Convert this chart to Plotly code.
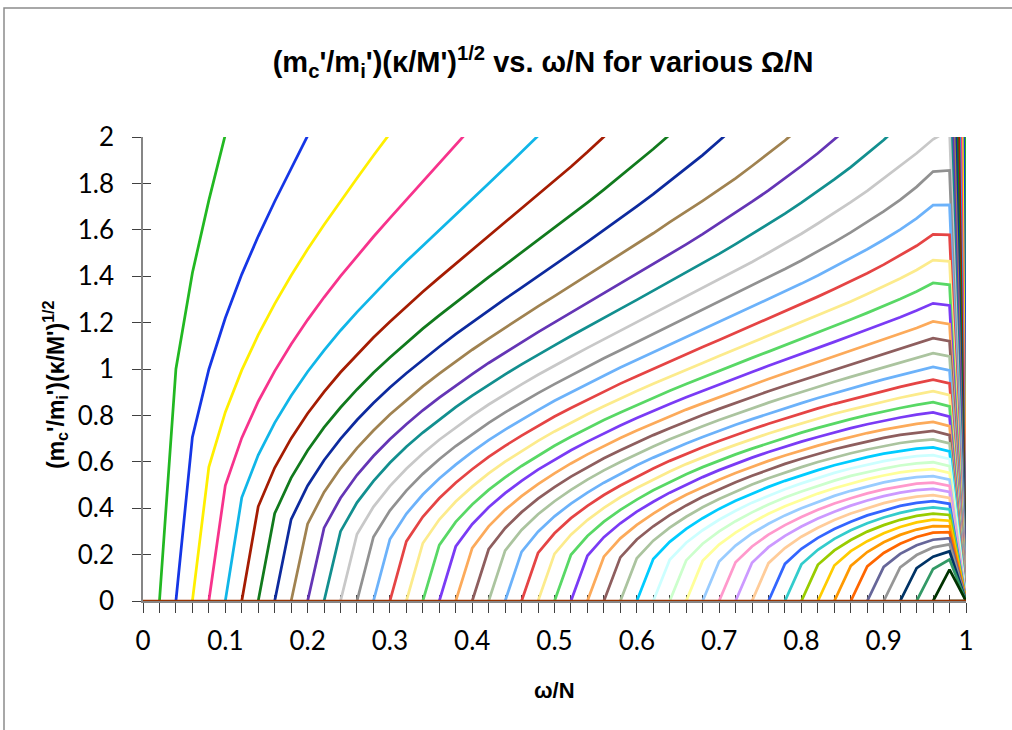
import plotly.graph_objects as go

# omega/N grid on which every curve is sampled
omega_grid = [0.00, 0.02, 0.04, 0.06, 0.08, 0.10, 0.12, 0.14, 0.16, 0.18, 0.20,
              0.22, 0.24, 0.26, 0.28, 0.30, 0.32, 0.34, 0.36, 0.38, 0.40,
              0.42, 0.44, 0.46, 0.48, 0.50, 0.52, 0.54, 0.56, 0.58, 0.60,
              0.62, 0.64, 0.66, 0.68, 0.70, 0.72, 0.74, 0.76, 0.78, 0.80,
              0.82, 0.84, 0.86, 0.88, 0.90, 0.92, 0.94, 0.96, 0.98, 1.00]

# Omega/N of each curve
omega_values = [0.02, 0.04, 0.06, 0.08, 0.10, 0.12, 0.14, 0.16, 0.18, 0.20,
                0.22, 0.24, 0.26, 0.28, 0.30, 0.32, 0.34, 0.36, 0.38, 0.40,
                0.42, 0.44, 0.46, 0.48, 0.50, 0.52, 0.54, 0.56, 0.58, 0.60,
                0.62, 0.64, 0.66, 0.68, 0.70, 0.72, 0.74, 0.76, 0.78, 0.80,
                0.82, 0.84, 0.86, 0.88, 0.90, 0.92, 0.94, 0.96, 0.98, 1.00]

# Curves that leave the top of the plot: values from omega/N = Omega/N up to the
# first point above 2, then their value at omega/N = 0.98 (they end at 0 at 1.0)
w02 = [0, 1.000, 1.414, 1.727, 2.010, 2.240]
w04 = [0, 0.706, 0.998, 1.220, 1.408, 1.572, 1.722, 1.862, 2.005, 2.125]
w06 = [0, 0.577, 0.814, 0.995, 1.147, 1.281, 1.403, 1.516, 1.622, 1.724, 1.822, 1.920,
       2.018, 2.110]
w08 = [0, 0.498, 0.703, 0.860, 0.991, 1.107, 1.212, 1.309, 1.400, 1.486, 1.570, 1.650,
       1.730, 1.809, 1.887, 1.966, 2.045]
w10 = [0, 0.446, 0.629, 0.768, 0.885, 0.988, 1.080, 1.166, 1.245, 1.321, 1.394, 1.464,
       1.532, 1.600, 1.666, 1.733, 1.800, 1.867, 1.936, 2.005]
w12 = [0, 0.407, 0.574, 0.701, 0.808, 0.901, 0.986, 1.063, 1.136, 1.204, 1.270, 1.333,
       1.394, 1.454, 1.514, 1.573, 1.632, 1.690, 1.750, 1.811, 1.872, 1.935, 2.000, 2.067]
w14 = [0, 0.377, 0.531, 0.649, 0.748, 0.834, 0.912, 0.984, 1.050, 1.113, 1.174, 1.231,
       1.287, 1.342, 1.396, 1.449, 1.502, 1.555, 1.609, 1.662, 1.717, 1.773, 1.830, 1.888,
       1.948, 2.010]
w16 = [0, 0.352, 0.497, 0.607, 0.699, 0.780, 0.853, 0.920, 0.982, 1.041, 1.096, 1.150,
       1.202, 1.252, 1.302, 1.351, 1.399, 1.447, 1.498, 1.548, 1.598, 1.649, 1.701, 1.754,
       1.809, 1.865, 1.922, 1.984, 2.046]
w18 = [0, 0.332, 0.469, 0.572, 0.659, 0.735, 0.804, 0.866, 0.925, 0.980, 1.032, 1.083,
       1.131, 1.178, 1.224, 1.270, 1.314, 1.359, 1.404, 1.449, 1.494, 1.539, 1.585, 1.633,
       1.678, 1.725, 1.773, 1.822, 1.875, 1.929, 1.985, 2.045]
w20 = [0, 0.315, 0.444, 0.543, 0.625, 0.697, 0.762, 0.822, 0.877, 0.929, 0.978, 1.026,
       1.071, 1.115, 1.159, 1.201, 1.243, 1.285, 1.326, 1.367, 1.409, 1.451, 1.494, 1.537,
       1.581, 1.627, 1.673, 1.721, 1.770, 1.822, 1.875, 1.930, 1.989, 2.050]
w22 = [0, 0.300, 0.424, 0.517, 0.596, 0.665, 0.726, 0.783, 0.836, 0.885, 0.932, 0.977,
       1.020, 1.062, 1.102, 1.142, 1.182, 1.221, 1.259, 1.298, 1.337, 1.376, 1.415, 1.455,
       1.496, 1.538, 1.581, 1.625, 1.670, 1.717, 1.766, 1.817, 1.870, 1.927, 1.987, 2.053]
rim_values = [26.6, 13.5, 8.74, 6.51, 5.17, 4.55, 3.63, 3.15, 2.78, 2.48, 2.23]

# Curves drawn in full: from omega/N = Omega/N to omega/N = 1
w24 = [0, 0.288, 0.406, 0.495, 0.570, 0.636, 0.695, 0.749, 0.799, 0.847, 0.891, 0.934,
       0.975, 1.015, 1.053, 1.091, 1.128, 1.165, 1.201, 1.238, 1.274, 1.311, 1.347, 1.385,
       1.423, 1.461, 1.501, 1.541, 1.583, 1.627, 1.672, 1.719, 1.768, 1.821, 1.875, 1.930,
       1.990, 2.030, 0]
w26 = [0, 0.276, 0.390, 0.476, 0.548, 0.611, 0.668, 0.719, 0.768, 0.813, 0.855, 0.896,
       0.935, 0.973, 1.010, 1.046, 1.081, 1.116, 1.150, 1.185, 1.219, 1.253, 1.288, 1.323,
       1.358, 1.394, 1.431, 1.468, 1.507, 1.547, 1.589, 1.633, 1.679, 1.729, 1.785, 1.851,
       1.856, 0]
w28 = [0, 0.266, 0.376, 0.459, 0.528, 0.588, 0.643, 0.693, 0.739, 0.782, 0.823, 0.863,
       0.900, 0.936, 0.971, 1.006, 1.039, 1.072, 1.105, 1.137, 1.170, 1.202, 1.234, 1.267,
       1.300, 1.334, 1.368, 1.403, 1.440, 1.477, 1.516, 1.557, 1.601, 1.649, 1.706, 1.707, 0]
w30 = [0, 0.257, 0.363, 0.443, 0.510, 0.568, 0.621, 0.669, 0.713, 0.755, 0.795, 0.832,
       0.868, 0.903, 0.937, 0.969, 1.001, 1.033, 1.064, 1.095, 1.125, 1.156, 1.186, 1.217,
       1.248, 1.280, 1.312, 1.345, 1.378, 1.413, 1.450, 1.489, 1.531, 1.580, 1.578, 0]
w32 = [0, 0.249, 0.351, 0.429, 0.493, 0.550, 0.601, 0.647, 0.690, 0.731, 0.769, 0.805,
       0.839, 0.873, 0.905, 0.936, 0.967, 0.997, 1.026, 1.056, 1.085, 1.114, 1.143, 1.172,
       1.201, 1.231, 1.261, 1.291, 1.323, 1.355, 1.390, 1.427, 1.469, 1.464, 0]
w34 = [0, 0.241, 0.341, 0.416, 0.479, 0.533, 0.582, 0.627, 0.669, 0.708, 0.745, 0.780,
       0.813, 0.845, 0.876, 0.906, 0.935, 0.964, 0.992, 1.020, 1.048, 1.075, 1.102, 1.130,
       1.157, 1.185, 1.213, 1.242, 1.271, 1.302, 1.334, 1.371, 1.363, 0]
w36 = [0, 0.235, 0.331, 0.404, 0.465, 0.518, 0.566, 0.609, 0.650, 0.687, 0.723, 0.756,
       0.789, 0.820, 0.849, 0.878, 0.906, 0.934, 0.961, 0.987, 1.014, 1.039, 1.065, 1.091,
       1.117, 1.143, 1.169, 1.196, 1.223, 1.252, 1.283, 1.274, 0]
w38 = [0, 0.228, 0.322, 0.393, 0.452, 0.504, 0.550, 0.593, 0.632, 0.668, 0.703, 0.735,
       0.766, 0.796, 0.825, 0.852, 0.879, 0.906, 0.931, 0.957, 0.982, 1.006, 1.030, 1.055,
       1.079, 1.103, 1.127, 1.152, 1.177, 1.205, 1.193, 0]
w40 = [0, 0.223, 0.314, 0.383, 0.441, 0.491, 0.536, 0.577, 0.615, 0.650, 0.684, 0.715,
       0.745, 0.774, 0.802, 0.828, 0.854, 0.879, 0.904, 0.928, 0.951, 0.975, 0.998, 1.020,
       1.043, 1.065, 1.087, 1.110, 1.133, 1.120, 0]
w42 = [0, 0.217, 0.306, 0.374, 0.430, 0.479, 0.523, 0.563, 0.599, 0.634, 0.666, 0.697,
       0.726, 0.753, 0.780, 0.806, 0.830, 0.855, 0.878, 0.901, 0.923, 0.945, 0.966, 0.987,
       1.008, 1.028, 1.048, 1.068, 1.054, 0]
w44 = [0, 0.212, 0.299, 0.365, 0.420, 0.467, 0.510, 0.549, 0.585, 0.618, 0.650, 0.679,
       0.707, 0.734, 0.760, 0.784, 0.808, 0.831, 0.853, 0.875, 0.896, 0.916, 0.936, 0.955,
       0.973, 0.991, 1.009, 0.994, 0]
w46 = [0, 0.207, 0.292, 0.357, 0.410, 0.457, 0.498, 0.536, 0.571, 0.604, 0.634, 0.663,
       0.690, 0.716, 0.740, 0.764, 0.787, 0.809, 0.830, 0.850, 0.869, 0.888, 0.906, 0.923,
       0.939, 0.954, 0.938, 0]
w48 = [0, 0.203, 0.286, 0.349, 0.401, 0.447, 0.487, 0.524, 0.558, 0.590, 0.619, 0.647,
       0.673, 0.698, 0.722, 0.744, 0.766, 0.787, 0.807, 0.825, 0.843, 0.860, 0.876, 0.891,
       0.904, 0.887, 0]
w50 = [0, 0.199, 0.280, 0.342, 0.393, 0.437, 0.477, 0.513, 0.546, 0.577, 0.605, 0.632,
       0.657, 0.681, 0.704, 0.726, 0.746, 0.766, 0.784, 0.801, 0.817, 0.832, 0.845, 0.857,
       0.839, 0]
w52 = [0, 0.195, 0.275, 0.335, 0.385, 0.428, 0.467, 0.502, 0.534, 0.564, 0.592, 0.618,
       0.642, 0.665, 0.687, 0.707, 0.727, 0.745, 0.762, 0.777, 0.791, 0.803, 0.813, 0.795, 0]
w54 = [0, 0.191, 0.270, 0.328, 0.377, 0.420, 0.458, 0.492, 0.523, 0.552, 0.579, 0.604,
       0.627, 0.649, 0.670, 0.689, 0.707, 0.724, 0.739, 0.752, 0.763, 0.772, 0.754, 0]
w56 = [0, 0.188, 0.265, 0.322, 0.370, 0.412, 0.449, 0.482, 0.512, 0.540, 0.566, 0.591,
       0.613, 0.634, 0.654, 0.671, 0.688, 0.703, 0.716, 0.726, 0.733, 0.715, 0]
w58 = [0, 0.184, 0.260, 0.316, 0.363, 0.404, 0.440, 0.472, 0.502, 0.529, 0.554, 0.577,
       0.599, 0.619, 0.637, 0.653, 0.668, 0.681, 0.690, 0.697, 0.679, 0]
w60 = [0, 0.181, 0.255, 0.311, 0.357, 0.397, 0.432, 0.463, 0.492, 0.518, 0.542, 0.564,
       0.585, 0.603, 0.620, 0.635, 0.647, 0.657, 0.662, 0.645, 0]
w62 = [0, 0.178, 0.251, 0.305, 0.350, 0.389, 0.424, 0.454, 0.482, 0.507, 0.531, 0.552,
       0.571, 0.588, 0.603, 0.615, 0.624, 0.629, 0.612, 0]
w64 = [0, 0.175, 0.247, 0.300, 0.344, 0.382, 0.416, 0.446, 0.472, 0.497, 0.519, 0.539,
       0.556, 0.571, 0.584, 0.593, 0.598, 0.581, 0]
w66 = [0, 0.173, 0.243, 0.295, 0.338, 0.376, 0.408, 0.437, 0.463, 0.486, 0.507, 0.525,
       0.541, 0.554, 0.563, 0.568, 0.552, 0]
w68 = [0, 0.170, 0.239, 0.291, 0.333, 0.369, 0.400, 0.428, 0.453, 0.475, 0.494, 0.511,
       0.524, 0.534, 0.538, 0.523, 0]
w70 = [0, 0.167, 0.235, 0.286, 0.327, 0.362, 0.393, 0.420, 0.443, 0.464, 0.481, 0.495,
       0.506, 0.510, 0.496, 0]
w72 = [0, 0.165, 0.232, 0.281, 0.321, 0.356, 0.385, 0.411, 0.433, 0.452, 0.467, 0.478,
       0.483, 0.470, 0]
w74 = [0, 0.163, 0.228, 0.277, 0.316, 0.349, 0.377, 0.401, 0.422, 0.438, 0.450, 0.456,
       0.444, 0]
w76 = [0, 0.160, 0.225, 0.272, 0.310, 0.342, 0.369, 0.391, 0.410, 0.423, 0.430, 0.419, 0]
w78 = [0, 0.158, 0.221, 0.268, 0.305, 0.335, 0.360, 0.380, 0.395, 0.403, 0.395, 0]
w80 = [0, 0.156, 0.218, 0.263, 0.299, 0.327, 0.350, 0.367, 0.377, 0.371, 0]
w82 = [0, 0.153, 0.215, 0.258, 0.292, 0.319, 0.339, 0.351, 0.346, 0]
w84 = [0, 0.151, 0.211, 0.253, 0.285, 0.308, 0.323, 0.322, 0]
w86 = [0, 0.149, 0.207, 0.247, 0.276, 0.295, 0.297, 0]
w88 = [0, 0.147, 0.203, 0.240, 0.264, 0.271, 0]
w90 = [0, 0.145, 0.198, 0.231, 0.244, 0]
w92 = [0, 0.142, 0.191, 0.214, 0]
w94 = [0, 0.138, 0.179, 0]
w96 = [0, 0.135, 0]
w98 = [0, 0]
w100 = [0, 0, 0, 0, 0, 0, 0, 0, 0, 0, 0, 0, 0, 0, 0, 0, 0, 0, 0, 0, 0, 0, 0, 0, 0, 0,
        0, 0, 0, 0, 0, 0, 0, 0, 0, 0, 0, 0, 0, 0, 0, 0, 0, 0, 0, 0, 0, 0, 0, 0, 0]

clipped_curves = [w02, w04, w06, w08, w10, w12, w14, w16, w18, w20, w22]
full_curves = [w24, w26, w28, w30, w32, w34, w36, w38, w40, w42, w44, w46, w48, w50,
               w52, w54, w56, w58, w60, w62, w64, w66, w68, w70, w72, w74, w76, w78,
               w80, w82, w84, w86, w88, w90, w92, w94, w96, w98]

curve_colors = ["#22B822", "#1536E6", "#FFEF00", "#F7338C", "#10B6E8", "#A51C02",
                "#117A1D", "#0D2A9E", "#A08250", "#6435B5", "#128F8F", "#C8C8C8",
                "#919191", "#6CB2FA", "#E54444", "#FCEB8C", "#58D865", "#7A3BF5",
                "#FCAA5A", "#8E5E5E", "#ABC49F", "#6CB2FA", "#E54444", "#FCEB8C",
                "#58D865", "#7A3BF5", "#FCAA5A", "#8E5E5E", "#ABC49F", "#00CCFF",
                "#CCFFFF", "#CCFFCC", "#FFFF99", "#99CCFF", "#FF99CC", "#CC99FF",
                "#FFCC99", "#3366FF", "#33CCCC", "#99CC00", "#FFCC00", "#FF9900",
                "#FF6600", "#666699", "#969696", "#003366", "#339966", "#003300",
                "#333300", "#993300"]

LINE_W = 2.75
fig = go.Figure()


def add_curve(xs, ys, color):
    fig.add_trace(go.Scatter(x=xs, y=ys, mode="lines", line=dict(color=color, width=LINE_W),
                             hoverinfo="skip", showlegend=False))


for idx, vals in enumerate(clipped_curves):
    i0 = omega_grid.index(omega_values[idx])
    xs = omega_grid[i0:i0 + len(vals)] + [omega_grid[-2], omega_grid[-1]]
    ys = vals + [rim_values[idx], 0]
    add_curve(xs, ys, curve_colors[idx])

offset = len(clipped_curves)
for k, vals in enumerate(full_curves):
    idx = offset + k
    i0 = omega_grid.index(omega_values[idx])
    add_curve(omega_grid[i0:i0 + len(vals)], vals, curve_colors[idx])

# Omega/N = 1 curve lies on the axis
add_curve(omega_grid, w100, curve_colors[-1])

# helper trace for the second (tick-only) axis pair
fig.add_trace(go.Scatter(x=[None], y=[None], xaxis="x2", yaxis="y2", showlegend=False,
                         hoverinfo="skip"))

W, H = 1012, 730
L, R, T, B = 143, 46, 137, 129
pw, ph = W - L - R, H - T - B

axis_col = "#868686"
tick_col = "#404040"
tick_font = dict(family="Lato, Carlito, sans-serif", size=26, color="#000000")
bold_font = "Liberation Sans, Arial, sans-serif"

fig.update_layout(
    width=W, height=H, margin=dict(l=L, r=R, t=T, b=B),
    paper_bgcolor="white", plot_bgcolor="white", showlegend=False,
    title=dict(text="<b>(m<sub>c</sub>'/m<sub>i</sub>')(\u03ba/M')<sup>1/2</sup> vs. "
                    "\u03c9/N for various \u03a9/N</b>",
               font=dict(family=bold_font, size=29, color="#000000"),
               x=543 / W, xanchor="center", xref="container",
               y=1 - 62 / H, yanchor="middle", yref="container"),
    xaxis=dict(range=[0, 1], dtick=0.1, tick0=0, showgrid=False, zeroline=False,
               showline=True, linecolor=axis_col, linewidth=1.5, layer="below traces",
               ticks="outside", ticklen=10, tickwidth=1, tickcolor=tick_col,
               minor=dict(dtick=0.02, ticks="outside", ticklen=10, tickwidth=1,
                          tickcolor=tick_col),
               tickfont=tick_font, ticklabelstandoff=6),
    yaxis=dict(range=[0, 2], dtick=0.2, tick0=0, showgrid=False, zeroline=False,
               showline=True, linecolor=axis_col, linewidth=1.5, layer="below traces",
               ticks="outside", ticklen=9, tickwidth=1, tickcolor=tick_col,
               tickfont=tick_font, ticklabelstandoff=13),
    xaxis2=dict(range=[0, 1], overlaying="x", anchor="y2", dtick=0.02, ticks="inside",
                ticklen=6, tickwidth=1, tickcolor=tick_col, showticklabels=False,
                showgrid=False, zeroline=False, showline=False, layer="below traces"),
    yaxis2=dict(range=[0, 2], overlaying="y", anchor="x2", dtick=0.2, ticks="inside",
                ticklen=8, tickwidth=1, tickcolor=tick_col, showticklabels=False,
                showgrid=False, zeroline=False, showline=False, layer="below traces"),
    annotations=[
        dict(text="<b>\u03c9/N</b>", xref="paper", yref="paper", x=0.5,
             y=(H - 690 - B) / ph, xanchor="center", yanchor="middle", showarrow=False,
             font=dict(family=bold_font, size=22, color="#000000")),
        dict(text="<b>(m<sub>c</sub>'/m<sub>i</sub>')(\u03ba/M')<sup>1/2</sup></b>",
             xref="paper", yref="paper", x=(55 - L) / pw, y=(H - B - 385) / ph,
             xanchor="center", yanchor="middle", textangle=-90, showarrow=False,
             font=dict(family=bold_font, size=23, color="#000000")),
    ],
    shapes=[dict(type="rect", xref="paper", yref="paper",
                 x0=(4 - L) / pw, x1=(W + 10 - L) / pw,
                 y0=(H - B - 8) / ph, y1=(H - B - H - 10) / ph,
                 line=dict(color="#8C8C8C", width=1.5), fillcolor="rgba(0,0,0,0)",
                 layer="below")],
)

fig.write_html("out.html")
